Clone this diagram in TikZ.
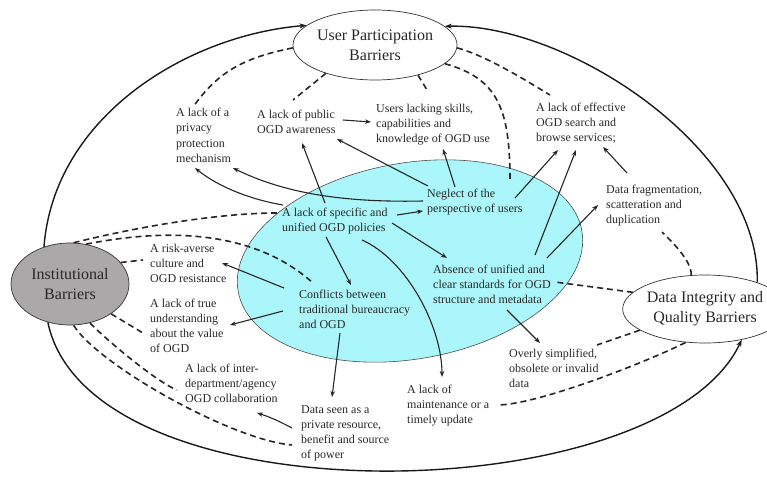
\documentclass[tikz,border=0pt]{standalone}
\usepackage{fontspec}
\setmainfont{Liberation Serif}
\usetikzlibrary{shapes.geometric,arrows.meta}
\definecolor{cyanfill}{RGB}{170,246,250}
\definecolor{ibgray}{RGB}{170,168,168}
\definecolor{txt}{RGB}{40,40,40}
\newcommand{\mlines}[1]{\begin{tabular}[t]{@{}l@{}}#1\end{tabular}}
\begin{document}
\begin{tikzpicture}[x=1pt,y=-1pt,
  lbl/.style={font=\fontsize{12}{15}\selectfont, anchor=base west, inner sep=0pt, text=txt},
  barrier/.style={ellipse, draw=black!80, line width=0.7pt, align=center, inner sep=0pt, text=txt, font=\fontsize{16}{20}\selectfont},
  arr/.style={draw=black!85, line width=1.1pt, -{Stealth[length=6pt,width=4.5pt]}},
  dsh/.style={draw=black!85, line width=1.6pt, dash pattern=on 6pt off 4pt},
  outer/.style={draw=black!90, line width=1.4pt, -{Stealth[length=7pt,width=5pt]}}]
\useasboundingbox (0,0) rectangle (767,484);
\node[ellipse, draw=black!70, line width=0.6pt, fill=cyanfill, minimum width=349pt, minimum height=196pt, rotate=10, inner sep=0pt] (core) at (410,261) {};
\node[barrier, fill=white, minimum width=135pt, minimum height=70pt] (UPB) at (375,45) {User Participation\\Barriers};
\node[barrier, fill=ibgray, minimum width=118pt, minimum height=82pt] (IB) at (70,284) {Institutional\\Barriers};
\node[barrier, fill=white, minimum width=164pt, minimum height=68pt] (DIQB) at (705,309) {Data Integrity and\\Quality Barriers};

\node[lbl] (privacy) at (176,117) {\mlines{A lack of a\\privacy\\protection\\mechanism}};
\node[lbl] (aware) at (257,118) {\mlines{A lack of public\\OGD awareness}};
\node[lbl] (skills) at (376,112) {\mlines{Users lacking skills,\\capabilities and\\knowledge of OGD use}};
\node[lbl] (search) at (536,111) {\mlines{A lack of effective\\OGD search and\\browse services;}};
\node[lbl] (frag) at (606,193) {\mlines{Data fragmentation,\\scatteration and\\duplication}};
\node[lbl] (neglect) at (427,197) {\mlines{Neglect of the\\perspective of users}};
\node[lbl] (policies) at (282,216) {\mlines{A lack of specific and\\unified OGD policies}};
\node[lbl] (risk) at (150,252) {\mlines{A risk-averse\\culture and\\OGD resistance}};
\node[lbl] (underst) at (150,307) {\mlines{A lack of true\\understanding\\about the value\\of OGD}};
\node[lbl] (conflict) at (299,298) {\mlines{Conflicts between\\traditional bureaucracy\\and OGD}};
\node[lbl] (absence) at (433,273) {\mlines{Absence of unified and\\clear standards for OGD\\structure and metadata}};
\node[lbl] (overly) at (509,357) {\mlines{Overly simplified,\\obsolete or invalid\\data}};
\node[lbl] (collab) at (185,372) {\mlines{A lack of inter-\\department/agency\\OGD collaboration}};
\node[lbl] (maint) at (407,393) {\mlines{A lack of\\maintenance or a\\timely update}};
\node[lbl] (private) at (301,413) {\mlines{Data seen as a\\private resource,\\benefit and source\\of power}};

% outer arcs
\draw[outer] (IB.125) .. controls +(10,-130) and +(-120,10) .. (UPB.164);
\draw[outer] (DIQB.27) .. controls +(3,-133) and +(123,-3) .. (UPB.15);
\draw[outer] (IB.240) .. controls +(42,200) and +(-81,172) .. (DIQB.320);

% solid arrows
\draw[arr] ([shift={(86,2)}]aware.base west) -- ([shift={(-5,10)}]skills.base west);
\draw[arr] ([shift={(28,-10)}]neglect.base west) -- ([shift={(67,37)}]skills.base west);
\draw[arr] ([shift={(1,-11)}]neglect.base west) -- ([shift={(80,21)}]aware.base west);
\draw[arr] ([shift={(43,-13)}]policies.base west) -- ([shift={(45,25)}]aware.base west);
\draw[arr] ([shift={(-4,4)}]neglect.base west) .. controls +(-90,2) and +(45,22) .. ([shift={(57,51)}]privacy.base west);
\draw[arr] ([shift={(1,-11)}]policies.base west) .. controls +(-30,-5) and +(25,20) .. ([shift={(19,51)}]privacy.base west);
\draw[arr] ([shift={(115,-1)}]policies.base west) -- ([shift={(-4,14)}]neglect.base west);
\draw[arr] ([shift={(44,21)}]policies.base west) -- ([shift={(52,-13)}]conflict.base west);
\draw[arr] ([shift={(110,7)}]policies.base west) -- ([shift={(14,-15)}]absence.base west);
\draw[arr] ([shift={(80,24)}]policies.base west) .. controls +(45,20) and +(0,-50) .. ([shift={(35,-16)}]maint.base west);
\draw[arr] ([shift={(41,35)}]conflict.base west) -- ([shift={(31,-16)}]private.base west);
\draw[arr] ([shift={(-15,-10)}]conflict.base west) -- ([shift={(72,11)}]risk.base west);
\draw[arr] ([shift={(-16,13)}]conflict.base west) -- ([shift={(80,18)}]underst.base west);
\draw[arr] ([shift={(-9,15)}]private.base west) .. controls +(-15,-8) and +(10,3) .. ([shift={(72,41)}]collab.base west);
\draw[arr] ([shift={(88,1)}]neglect.base west) -- ([shift={(22,39)}]search.base west);
\draw[arr] ([shift={(102,-18)}]absence.base west) -- ([shift={(40,39)}]search.base west);
\draw[arr] ([shift={(114,-15)}]absence.base west) -- ([shift={(-8,12)}]frag.base west);
\draw[arr] ([shift={(21,-20)}]frag.base west) -- ([shift={(67,36)}]search.base west);
\draw[arr] ([shift={(74,37)}]absence.base west) -- ([shift={(31,-14)}]overly.base west);

% dashed links
\draw[dsh] (UPB.182) .. controls +(-50,10) and +(25,-35) .. ([shift={(17,-10)}]privacy.base west);
\draw[dsh] (UPB.210) -- ([shift={(36,-18)}]aware.base west);
\draw[dsh] (UPB.325) -- ([shift={(51,-22)}]skills.base west);
\draw[dsh] (UPB.358) .. controls +(30,8) and +(-20,-12) .. ([shift={(14,-16)}]search.base west);
\draw[dsh] (UPB.345) .. controls +(55,15) and +(0,-70) .. ([shift={(83,-15)}]neglect.base west);
\draw[dsh] (IB.85) .. controls +(60,-15) and +(-60,0) .. ([shift={(-5,-3)}]policies.base west);
\draw[dsh] (IB.68) .. controls +(100,-20) and +(-50,-45) .. ([shift={(14,-15)}]conflict.base west);
\draw[dsh] (IB.23) -- ([shift={(-7,8)}]risk.base west);
\draw[dsh] (IB.324) -- ([shift={(-7,26)}]underst.base west);
\draw[dsh] (IB.297) .. controls +(20,20) and +(-20,-8) .. ([shift={(-8,18)}]collab.base west);
\draw[dsh] (IB.275) .. controls +(25,40) and +(-60,-5) .. ([shift={(-9,32)}]private.base west);
\draw[dsh] (DIQB.112) .. controls +(0,-15) and +(10,10) .. ([shift={(56,39)}]frag.base west);
\draw[dsh] (DIQB.167) -- ([shift={(122,9)}]absence.base west);
\draw[dsh] (DIQB.198) -- ([shift={(88,-12)}]overly.base west);
\draw[dsh] (DIQB.240) .. controls +(-40,20) and +(40,0) .. ([shift={(90,12)}]maint.base west);
\end{tikzpicture}
\end{document}
